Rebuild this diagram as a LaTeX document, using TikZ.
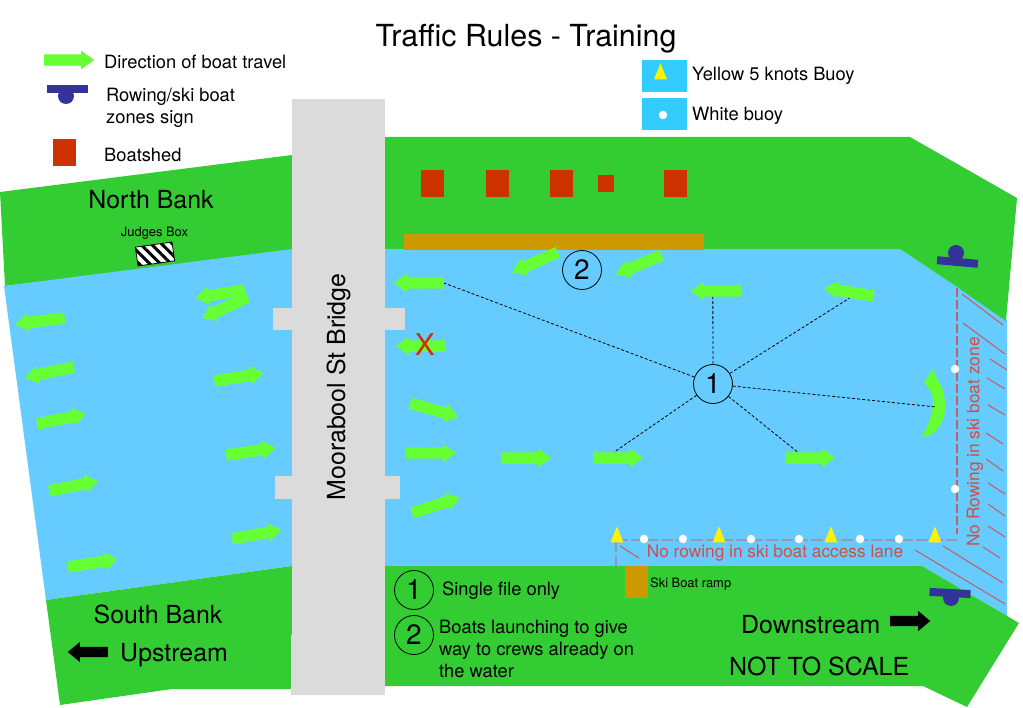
\documentclass[tikz,border=0pt]{standalone}
\usepackage{fontspec}
\setmainfont{TeX Gyre Heros}
\usetikzlibrary{shapes,arrows,positioning,patterns.meta}
\definecolor{bank}{RGB}{51, 204, 51}
\definecolor{water}{RGB}{102, 204, 255}
\definecolor{keywater}{RGB}{51, 204, 255}
\definecolor{bridge}{RGB}{219, 219, 219}
\definecolor{travel}{RGB}{102, 255, 51}
\definecolor{shed}{RGB}{204, 51, 0}
\definecolor{ramp}{RGB}{204, 153, 0}
\definecolor{signblue}{RGB}{51, 51, 153}
\definecolor{zonered}{RGB}{204, 80, 70}
\definecolor{hatch}{RGB}{195, 95, 105}
\definecolor{lane}{RGB}{150, 150, 185}
\tikzstyle{boat} = [single arrow, anchor=tail, fill=travel, minimum height=50pt, inner xsep=0pt, inner ysep=5.5pt, single arrow head extend=3.5pt, single arrow tip angle=70]
\tikzstyle{flow} = [single arrow, anchor=tail, fill=black, minimum height=40pt, inner xsep=0pt, inner ysep=5pt, single arrow head extend=5pt, single arrow tip angle=80]
\tikzstyle{shedbox} = [rectangle, fill=shed, minimum width=23pt, minimum height=27pt, inner sep=0pt]
\tikzstyle{keybox} = [rectangle, fill=keywater, minimum width=45pt, minimum height=32pt, inner sep=0pt]
\tikzstyle{yellowbuoy} = [isosceles triangle, shape border rotate=90, isosceles triangle stretches, fill=yellow, minimum width=13pt, minimum height=16pt, inner sep=0pt]
\tikzstyle{whitebuoy} = [circle, fill=white, minimum size=8.5pt, inner sep=0pt]
\tikzstyle{rule} = [circle, draw=black, line width=0.8pt, minimum size=39pt, inner sep=0pt, font=\fontsize{28}{28}\selectfont]
\tikzstyle{signbar} = [rectangle, fill=signblue, minimum width=41pt, minimum height=8pt, inner sep=0pt]
\tikzstyle{signdot} = [circle, fill=signblue, minimum size=16pt, inner sep=0pt]
\tikzstyle{small} = [inner sep=0pt, font=\fontsize{12.9}{15}\selectfont]
\tikzstyle{body} = [inner sep=0pt, anchor=west, align=left, font=\fontsize{18.3}{22}\selectfont]
\tikzstyle{zonetag} = [inner sep=0pt, text=zonered, font=\fontsize{17.3}{20}\selectfont]
\tikzstyle{big} = [inner sep=0pt, font=\fontsize{24.9}{28}\selectfont]
\tikzstyle{tedge} = [draw, line width=0.8pt, densely dashed, black]
\tikzstyle{zoneedge} = [draw, line width=1.1pt, dash pattern=on 9pt off 3pt, hatch]
\tikzstyle{laneedge} = [draw, line width=2pt, dash pattern=on 12pt off 3pt, lane]
\tikzstyle{hatchline} = [draw, line width=1.1pt, hatch]

\begin{document}
\begin{tikzpicture}[x=1pt,y=-1pt]
\useasboundingbox (0,0) rectangle (1023,708);

% land and water =============================
\fill[bank] (0,192) -- (292,155) -- (292,250) -- (5,286) -- cycle;
\fill[water] (4,286) -- (292,249) -- (292,566) -- (46,600) -- cycle;
\fill[bank] (46,600) -- (292,566) -- (292,689) -- (172,689) -- (60,705) -- cycle;
\fill[water] (385,249) -- (900,249) -- (1007,320) -- (1007,616) -- (922,566) -- (385,566) -- cycle;
\fill[bank] (385,137) -- (910,137) -- (1017,198) -- (1006,321) -- (957,287) -- (900,249) -- (385,249) -- cycle;
\fill[bank] (385,566) -- (922,566) -- (1019,623) -- (967,707) -- (923,686) -- (385,686) -- cycle;

% bridge
\fill[bridge] (292,99) rectangle (385,695);
\fill[bridge] (291,635) rectangle (292,695);
\fill[bridge] (273,308) rectangle (405,330);
\fill[bridge] (275,476) rectangle (400,499);
\node[big, rotate=90] (bridgename) at (338.5,387) {Moorabool St Bridge};

% key =============================
\node[font=\fontsize{30.4}{34}\selectfont, inner sep=0pt] (title) at (526,39) {Traffic Rules - Training};
\node[boat] (keyboat) at (44,60) {};
\node[body] (keyboattext) at (104,62) {Direction of boat travel};
\node[signdot] (keydot) at (66,96) {};
\node[signbar] (keybar) at (67.5,89) {};
\node[body] (keysigntext) at (106,108) {Rowing/ski boat\\zones sign};
\node[shedbox, minimum height=27pt] (keyshed) at (64.5,152.5) {};
\node[body] (keyshedtext) at (104,155) {Boatshed};
\node[keybox] (keyyellow) at (664.5,76) {};
\node[keybox] (keywhite) at (664.5,114) {};
\node[yellowbuoy] (keytri) at (660.5,75) {};
\node[whitebuoy] (keydot2) at (663,115) {};
\node[body] (keyyellowtext) at (692,76) {Yellow 5 knots Buoy};
\node[body] (keywhitetext) at (692,116) {White buoy};

% banks =============================
\node[big] (north) at (151,199.5) {North Bank};
\node[small] (judges) at (154.5,233.5) {Judges Box};
\node[rectangle, rotate=8, draw=black, line width=0.8pt, minimum width=37pt, minimum height=19pt, inner sep=0pt, preaction={fill=white}, pattern={Lines[angle=-45,distance=7.5pt,line width=3pt]}] (judgesbox) at (155,254) {};
\node[big] (south) at (158,614.5) {South Bank};
\node[flow, rotate=180] (upflow) at (108,652) {};
\node[big, anchor=west] (upstream) at (120,655) {Upstream};
\node[big, anchor=west] (downstream) at (741,625) {Downstream};
\node[flow] (downflow) at (890,621) {};
\node[big, anchor=west] (scale) at (729,666) {NOT TO SCALE};

% sheds
\node[shedbox] (shed1) at (432.5,183.5) {};
\node[shedbox] (shed2) at (497.5,183.5) {};
\node[shedbox] (shed3) at (561.5,183.5) {};
\node[shedbox, minimum width=16pt, minimum height=17pt] (shed4) at (606,183.5) {};
\node[shedbox] (shed5) at (675.5,183.5) {};
\node[rectangle, fill=ramp, minimum width=300pt, minimum height=16pt, inner sep=0pt] (jetty) at (554,242) {};
\node[rectangle, fill=ramp, minimum width=23pt, minimum height=32pt, inner sep=0pt] (skiramp) at (636.5,582) {};
\node[small, anchor=west] (skiramptext) at (650,584) {Ski Boat ramp};

% rules
\node[rule] (rule1) at (414,590) {1};
\node[body] (rule1text) at (442,591) {Single file only};
\node[rule] (rule2) at (414,635) {2};
\node[body] (rule2text) at (439,649) {Boats launching to give\\way to crews already on\\the water};

% boats above the bridge
\node[boat, rotate=187] (b1) at (65,318) {};
\node[boat, rotate=192] (b2) at (74,367) {};
\node[boat, rotate=11.5] (b3) at (37,424) {};
\node[boat, rotate=11.5] (b4) at (49,491) {};
\node[boat, rotate=9] (b5) at (68,567) {};
\node[boat, rotate=9] (b6) at (214,381) {};
\node[boat, rotate=8] (b7) at (226,455) {};
\node[boat, rotate=10.5] (b8) at (232,539) {};
\node[boat, rotate=189] (b9) at (245,290) {};
\node[boat, rotate=205] (b10) at (248,297) {};

% boats below the bridge
\node[boat, rotate=180] (b11) at (444,283) {};
\node[boat, rotate=180] (b12) at (446,346) {};
\node[text=shed, font=\fontsize{30}{30}\selectfont, inner sep=0pt] (nogo) at (425,345) {X};
\node[boat, rotate=-16] (b13) at (410,403) {};
\node[boat] (b14) at (406,453) {};
\node[boat, rotate=18] (b15) at (412,513) {};
\node[boat] (b16) at (501,458) {};
\node[boat] (b17) at (593,458) {};
\node[boat] (b18) at (785,458) {};
\node[boat, rotate=204] (b19) at (558,252) {};
\node[boat, rotate=203] (b20) at (662,255) {};
\node[boat, rotate=180] (b21) at (741,291) {};
\node[boat, rotate=171] (b22) at (874,296) {};
\fill[travel] (933,369) -- (924,382) -- (931,392) .. controls (936,405) and (931,420) .. (922,437) .. controls (935,437) and (946,422) .. (945,405) .. controls (945,395) and (942,385) .. (938,381) -- cycle;
\coordinate (turn) at (936,407);

% ski boat zone
\coordinate (zonetop) at (957,288);
\coordinate (zonebottom) at (957,534);
\coordinate (laneleft) at (616,540);
\coordinate (laneright) at (957,540);
\coordinate (lanefoot) at (616,566);
\path[zoneedge] (zonetop) -- (zonebottom);
\path[laneedge] (laneleft) -- (laneright);
\path[laneedge] (laneleft) -- (lanefoot);

\draw[hatchline] (962,294) -- (1003,325);
\draw[hatchline] (963,323) -- (1005,354);
\draw[hatchline] (990,359) -- (1007,370);
\draw[hatchline] (987,378) -- (1005,389);
\draw[hatchline] (988,405) -- (1005,415);
\draw[hatchline] (986,433) -- (1003,444);
\draw[hatchline] (986,459) -- (1003,471);
\draw[hatchline] (988,483) -- (1005,494);
\draw[hatchline] (988,504) -- (1005,516);
\draw[hatchline] (988,526) -- (1005,537);
\draw[hatchline] (983,547) -- (1000,558);
\draw[hatchline] (943,546) -- (1003,583);
\draw[hatchline] (915,550) -- (1005,604);
\draw[hatchline] (620,546) -- (639,558);

\node[zonetag, rotate=90] (zonetext) at (975,442) {No Rowing in ski boat zone};
\node[zonetag] (lanetext) at (775,553) {No rowing in ski boat access lane};

% buoys
\node[yellowbuoy] (y1) at (617,538) {};
\node[yellowbuoy] (y2) at (719,538) {};
\node[yellowbuoy] (y3) at (831,538) {};
\node[yellowbuoy] (y4) at (935,538) {};
\node[whitebuoy] (w1) at (644,539) {};
\node[whitebuoy] (w2) at (683,539) {};
\node[whitebuoy] (w3) at (751,539) {};
\node[whitebuoy] (w4) at (799,539) {};
\node[whitebuoy] (w5) at (860,539) {};
\node[whitebuoy] (w6) at (899,539) {};
\node[whitebuoy] (w7) at (955,369) {};
\node[whitebuoy] (w8) at (955,489) {};

% signs
\node[signdot] (dot1) at (956,253) {};
\node[signbar, rotate=-5] (bar1) at (957.5,262) {};
\node[signdot] (dot2) at (951,598) {};
\node[signbar, rotate=-3] (bar2) at (950,593) {};

% single file
\node[rule] (one) at (713,384) {1};
\node[rule] (two) at (582,270) {2};

%edges
\path[tedge] (one) -- (b11.tail);
\path[tedge] (one) -- (b21.40);
\path[tedge] (one) -- (b22.65);
\path[tedge] (one) -- (turn);
\path[tedge] (one) -- (b18.145);
\path[tedge] (one) -- (b17.north);

\end{tikzpicture}
\end{document}
